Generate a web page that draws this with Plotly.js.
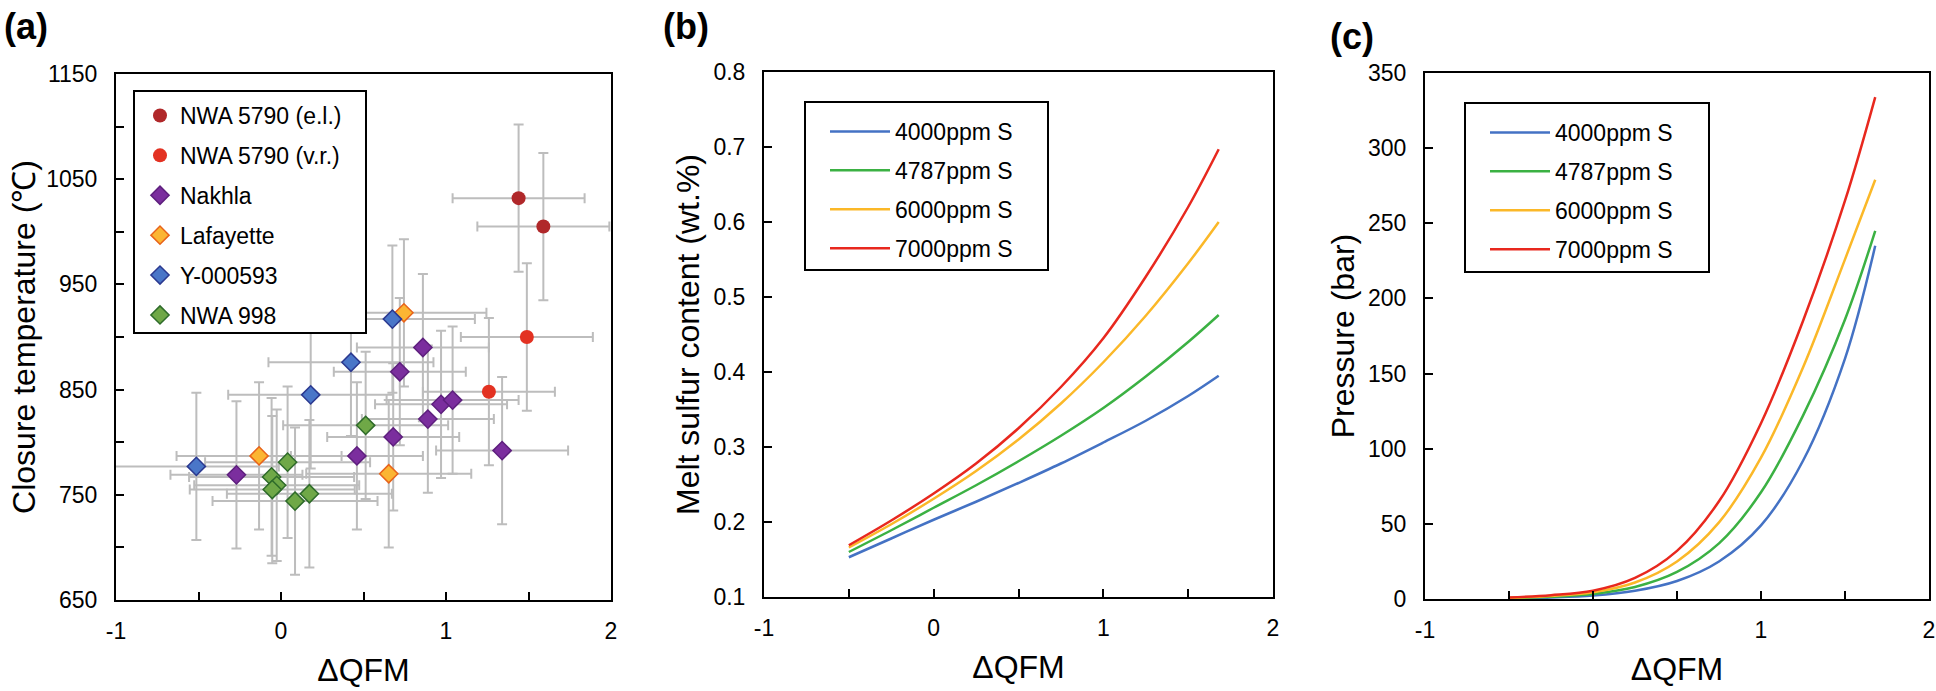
<!DOCTYPE html>
<html>
<head>
<meta charset="utf-8">
<script src="https://cdn.plot.ly/plotly-3.0.1.min.js"></script>
<style>html,body{margin:0;padding:0;background:#fff;}#chart{width:1936px;height:691px;}</style>
</head>
<body>
<div id="chart"></div>
<script>
// ---------- Panel (a) data: closure temperature vs ΔQFM ----------
const elX = [1.44, 1.59];
const elT = [1032, 1005];
const elXerr = [0.40, 0.40];
const elTerr = [70, 70];

const vrX = [1.49, 1.26];
const vrT = [900, 848];
const vrXerr = [0.40, 0.40];
const vrTerr = [70, 70];

const nakhlaX = [0.86, 0.72, 0.97, 1.04, 0.89, 0.68, 0.46, 1.34, -0.27];
const nakhlaT = [890, 867, 836, 840, 822, 805, 787, 792, 769];
const nakhlaXerr = [0.40, 0.40, 0.40, 0.40, 0.40, 0.40, 0.40, 0.40, 0.40];
const nakhlaTerr = [70, 70, 70, 70, 70, 70, 70, 70, 70];

const lafX = [0.745, -0.133, 0.653];
const lafT = [923, 787, 770];
const lafXerr = [0.50, 0.50, 0.50];
const lafTerr = [70, 70, 70];

const yamX = [0.675, 0.424, 0.18, -0.513];
const yamT = [917, 876, 845, 777];
const yamXerr = [0.50, 0.50, 0.50, 0.50];
const yamTerr = [70, 70, 70, 70];

const nwa998X = [0.513, 0.04, -0.057, -0.026, -0.053, 0.085, 0.172];
const nwa998T = [816, 781, 767, 759, 755, 744, 751];
const nwa998Xerr = [0.50, 0.50, 0.50, 0.50, 0.50, 0.50, 0.50];
const nwa998Terr = [70, 72, 75, 72, 70, 70, 70];

// ---------- Panels (b) and (c): model curves ----------
const curveLabels = ['4000ppm S', '4787ppm S', '6000ppm S', '7000ppm S'];
const qfm = [-0.5, -0.25, 0, 0.25, 0.5, 0.75, 1.0, 1.25, 1.5, 1.68];

const melt4000 = [0.153, 0.178, 0.203, 0.227, 0.252, 0.278, 0.306, 0.335, 0.368, 0.395];
const melt4787 = [0.160, 0.189, 0.219, 0.249, 0.281, 0.315, 0.352, 0.394, 0.440, 0.476];
const melt6000 = [0.166, 0.197, 0.231, 0.268, 0.310, 0.358, 0.413, 0.475, 0.545, 0.600];
const melt7000 = [0.169, 0.202, 0.238, 0.278, 0.325, 0.380, 0.445, 0.527, 0.620, 0.697];

const pres4000 = [0.4, 1.0, 2.3, 5.5, 12, 25, 49, 92, 160, 235];
const pres4787 = [0.6, 1.5, 3.4, 8.0, 18, 37, 71, 122, 186, 245];
const pres6000 = [0.8, 2.0, 4.5, 11, 25, 51, 94, 154, 226, 279];
const pres7000 = [1.0, 2.5, 5.5, 14, 32, 65, 117, 185, 265, 334];

// x tick labels (hyphen-minus as in the original figure)
const xTickVals = [-1, 0, 1, 2];
const xTickText = ['-1', '0', '1', '2'];

const lineColors = ['#4472C4', '#3BB143', '#FBB828', '#E8281E'];

const FONT = 'Arial, "Liberation Sans", sans-serif';
const errColor = '#BDBDBD';

const traces = [];

// error bar layers (drawn first so markers sit on top)
function errTrace(x, y, ex, ey) {
  return {
    type: 'scatter', mode: 'markers', x: x, y: y, xaxis: 'x', yaxis: 'y',
    marker: {size: 1, color: 'rgba(0,0,0,0)'},
    error_x: {type: 'data', array: ex, visible: true, color: errColor, thickness: 2, width: 5},
    error_y: {type: 'data', array: ey, visible: true, color: errColor, thickness: 2, width: 5},
    showlegend: false, hoverinfo: 'skip'
  };
}
traces.push(errTrace(elX, elT, elXerr, elTerr));
traces.push(errTrace(vrX, vrT, vrXerr, vrTerr));
traces.push(errTrace(nakhlaX, nakhlaT, nakhlaXerr, nakhlaTerr));
traces.push(errTrace(lafX, lafT, lafXerr, lafTerr));
traces.push(errTrace(yamX, yamT, yamXerr, yamTerr));
traces.push(errTrace(nwa998X, nwa998T, nwa998Xerr, nwa998Terr));

function ptTrace(name, x, y, symbol, size, fill, edge, grp) {
  return {
    type: 'scatter', mode: 'markers', name: name, x: x, y: y, xaxis: 'x', yaxis: 'y',
    marker: {symbol: symbol, size: size, color: fill, line: {color: edge || fill, width: edge ? 1.5 : 0}},
    legend: 'legend', legendgroup: grp
  };
}
traces.push(ptTrace('NWA 5790 (e.l.)', elX, elT, 'circle', 14, '#B0282A', null, 'a1'));
traces.push(ptTrace('NWA 5790 (v.r.)', vrX, vrT, 'circle', 14, '#E33222', null, 'a2'));
traces.push(ptTrace('Nakhla', nakhlaX, nakhlaT, 'diamond', 14, '#7B2E9E', '#5E1F7E', 'a3'));
traces.push(ptTrace('Lafayette', lafX, lafT, 'diamond', 14, '#FBB533', '#E8631A', 'a4'));
traces.push(ptTrace('Y-000593', yamX, yamT, 'diamond', 14, '#4A76C8', '#2B3990', 'a5'));
traces.push(ptTrace('NWA 998', nwa998X, nwa998T, 'diamond', 14, '#6FA847', '#2E6B2A', 'a6'));

const meltSeries = [melt4000, melt4787, melt6000, melt7000];
const presSeries = [pres4000, pres4787, pres6000, pres7000];
meltSeries.forEach((ys, i) => {
  traces.push({type: 'scatter', mode: 'lines', name: curveLabels[i], x: qfm, y: ys,
    xaxis: 'x2', yaxis: 'y2', line: {color: lineColors[i], width: 2.5, shape: 'spline', smoothing: 1},
    legend: 'legend2', legendgroup: 'b' + i});
});
presSeries.forEach((ys, i) => {
  traces.push({type: 'scatter', mode: 'lines', name: curveLabels[i], x: qfm, y: ys,
    xaxis: 'x3', yaxis: 'y3', line: {color: lineColors[i], width: 2.5, shape: 'spline', smoothing: 1},
    legend: 'legend3', legendgroup: 'c' + i});
});

function xAxis(domain, anchor) {
  return {
    domain: domain, anchor: anchor, range: [-1, 2],
    tickmode: 'array', tickvals: xTickVals, ticktext: xTickText,
    ticks: 'inside', ticklen: 8, tickwidth: 2, tickcolor: '#000',
    minor: {ticks: 'inside', tick0: -1, dtick: 0.5, ticklen: 8, tickwidth: 2, tickcolor: '#000', showgrid: false},
    showline: true, linecolor: '#000', linewidth: 2, mirror: true,
    showgrid: false, zeroline: false, ticklabelstandoff: 9,
    tickfont: {family: FONT, size: 23, color: '#000'},
    title: {text: 'ΔQFM', font: {family: FONT, size: 32, color: '#000'}, standoff: 16},
    automargin: false, fixedrange: true
  };
}
function yAxis(domain, anchor, range, tick0, dtick, minorDtick, fmt, title, standoff) {
  const a = {
    domain: domain, anchor: anchor, range: range, tick0: tick0, dtick: dtick,
    ticks: 'inside', ticklen: 8, tickwidth: 2, tickcolor: '#000',
    showline: true, linecolor: '#000', linewidth: 2, mirror: true,
    showgrid: false, zeroline: false, ticklabelstandoff: 12,
    tickfont: {family: FONT, size: 23, color: '#000'},
    title: {text: title, font: {family: FONT, size: 32, color: '#000'}, standoff: standoff},
    automargin: false, fixedrange: true
  };
  if (fmt) a.tickformat = fmt;
  if (minorDtick) a.minor = {ticks: 'inside', dtick: minorDtick, ticklen: 8, tickwidth: 2, tickcolor: '#000', showgrid: false};
  return a;
}

const W = 1936, H = 691;
const px = v => v / W;
const py = v => 1 - v / H;

function legendCfg(xpx, ypx, gap, itemwidth) {
  return {
    x: px(xpx), y: py(ypx), xanchor: 'left', yanchor: 'top',
    bgcolor: 'rgba(0,0,0,0)', borderwidth: 0,
    font: {family: FONT, size: 23, color: '#000'},
    traceorder: 'grouped', tracegroupgap: gap, itemwidth: itemwidth,
    itemclick: false, itemdoubleclick: false
  };
}

const layout = {
  width: W, height: H,
  margin: {l: 0, r: 0, t: 0, b: 0},
  paper_bgcolor: '#fff', plot_bgcolor: '#fff',
  showlegend: true,
  font: {family: FONT, color: '#000'},
  xaxis: xAxis([px(116), px(611)], 'y'),
  yaxis: yAxis([1 - 600 / H, 1 - 74 / H], 'x', [650, 1150], 650, 100, 50, null, 'Closure temperature (℃)', 1),
  xaxis2: xAxis([px(764), px(1273)], 'y2'),
  yaxis2: yAxis([1 - 597 / H, 1 - 72 / H], 'x2', [0.1, 0.8], 0.1, 0.1, null, '.1f', 'Melt sulfur content (wt.%)', 4),
  xaxis3: xAxis([px(1425), px(1929)], 'y3'),
  yaxis3: yAxis([1 - 599 / H, 1 - 73 / H], 'x3', [0, 350], 0, 50, null, null, 'Pressure (bar)', 4),
  legend: legendCfg(140, 94, 7, 30),
  legend2: legendCfg(825, 110, 6, 60),
  legend3: legendCfg(1485, 111, 6, 60),
  shapes: [
    {type: 'rect', xref: 'paper', yref: 'paper', x0: px(134), x1: px(366), y0: py(333), y1: py(91), line: {width: 0}, fillcolor: '#fff', layer: 'above'},
    {type: 'rect', xref: 'paper', yref: 'paper', x0: px(134), x1: px(366), y0: py(333), y1: py(91), line: {color: '#000', width: 2}, fillcolor: 'rgba(0,0,0,0)', layer: 'above'},
    {type: 'rect', xref: 'paper', yref: 'paper', x0: px(805), x1: px(1048), y0: py(270), y1: py(102), line: {color: '#000', width: 2}, fillcolor: 'rgba(0,0,0,0)', layer: 'above'},
    {type: 'rect', xref: 'paper', yref: 'paper', x0: px(1465), x1: px(1709), y0: py(272), y1: py(103), line: {color: '#000', width: 2}, fillcolor: 'rgba(0,0,0,0)', layer: 'above'}
  ],
  annotations: [
    {text: '<b>(a)</b>', xref: 'paper', yref: 'paper', x: px(2), y: py(27), xanchor: 'left', yanchor: 'middle', showarrow: false, font: {family: FONT, size: 36, color: '#000'}},
    {text: '<b>(b)</b>', xref: 'paper', yref: 'paper', x: px(661), y: py(27), xanchor: 'left', yanchor: 'middle', showarrow: false, font: {family: FONT, size: 36, color: '#000'}},
    {text: '<b>(c)</b>', xref: 'paper', yref: 'paper', x: px(1328), y: py(36), xanchor: 'left', yanchor: 'middle', showarrow: false, font: {family: FONT, size: 36, color: '#000'}}
  ]
};

Plotly.newPlot('chart', traces, layout, {staticPlot: true, displayModeBar: false});
</script>
</body>
</html>
